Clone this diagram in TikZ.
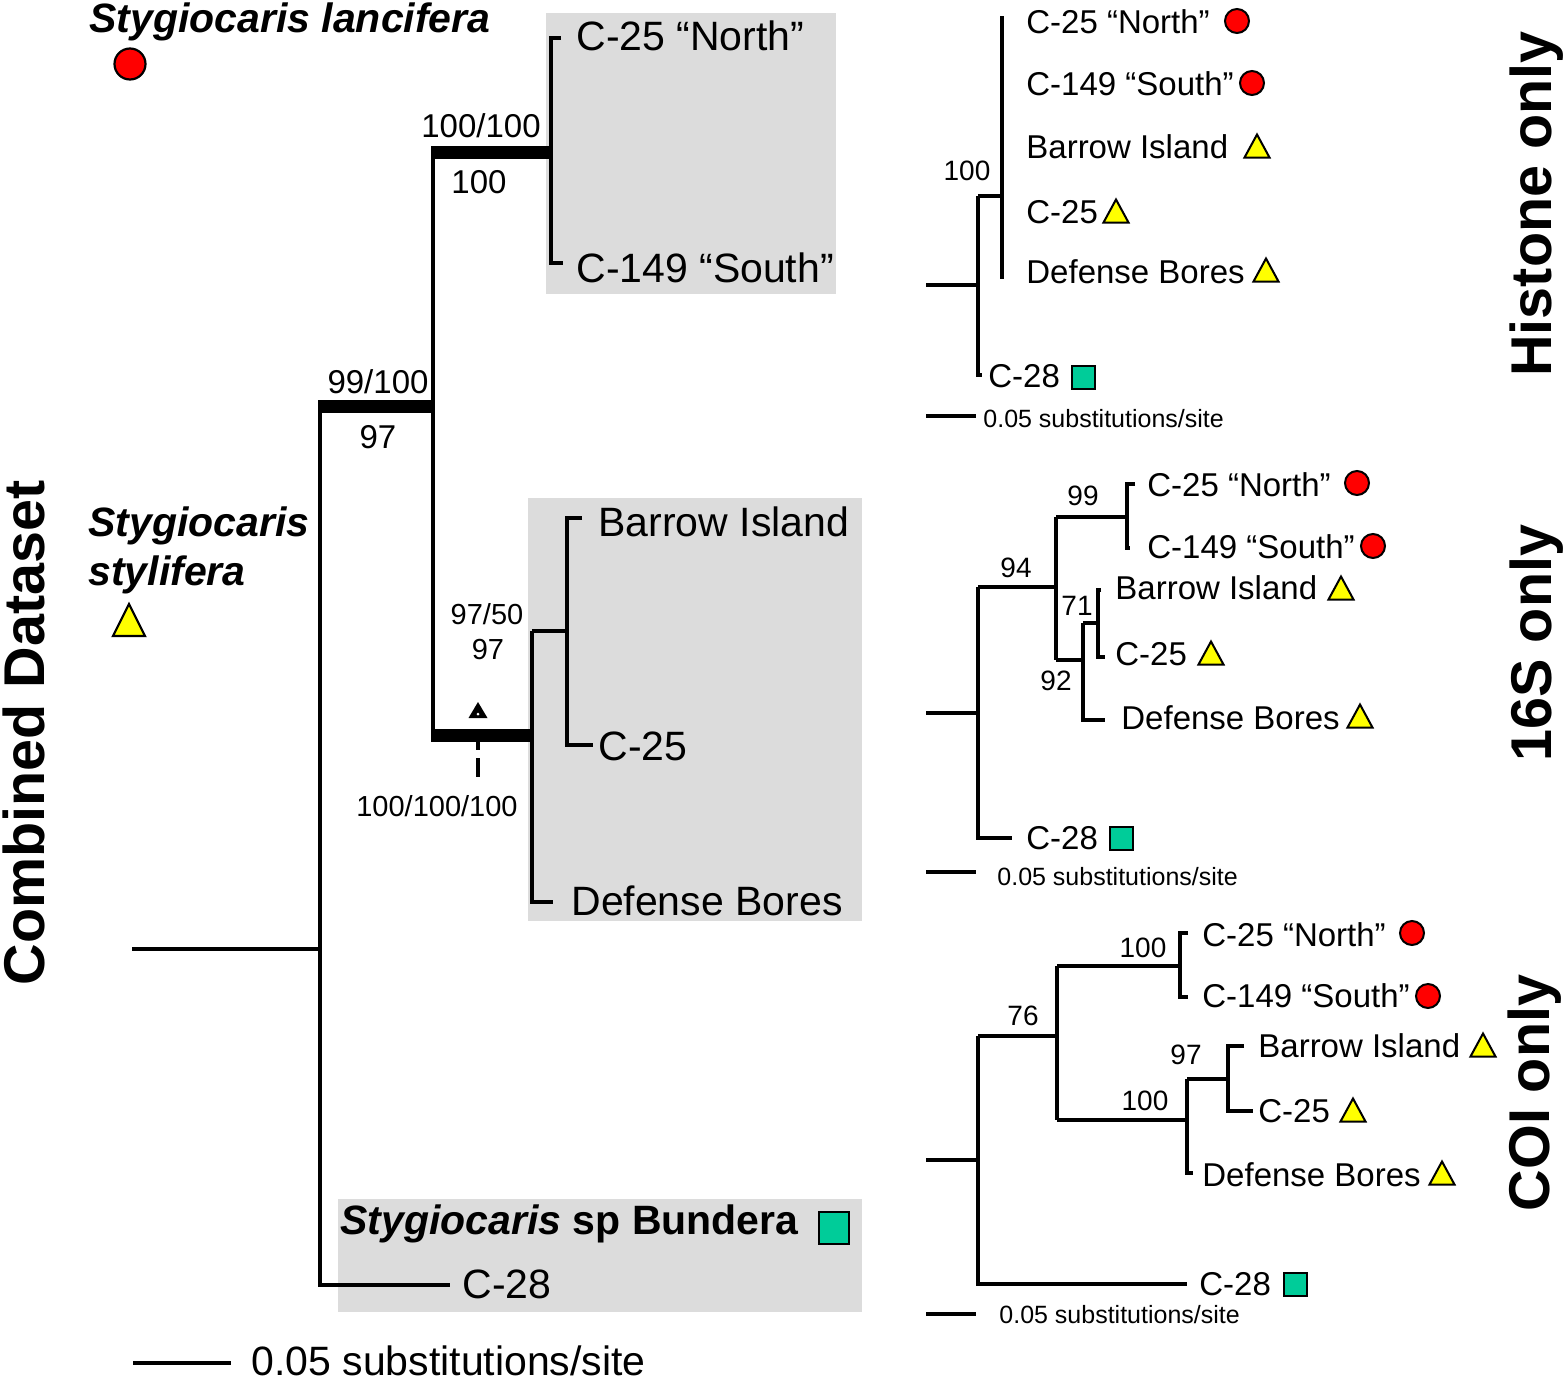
\documentclass[tikz,border=0pt]{standalone}
\usepackage{fontspec}
\setmainfont{Liberation Sans}
\definecolor{boxgray}{RGB}{220,220,220}
\definecolor{mred}{RGB}{255,0,0}
\definecolor{myel}{RGB}{255,255,0}
\definecolor{mgreen}{RGB}{0,204,153}
\begin{document}
\begin{tikzpicture}[x=0.5pt,y=-0.5pt,
  br/.style={line width=1.65pt, line join=miter, line cap=butt},
  thk/.style={line width=6.5pt, line cap=butt},
  lab/.style={anchor=base west, inner sep=0pt, font=\fontsize{20.5}{24}\selectfont},
  bilab/.style={anchor=base west, inner sep=0pt, font=\fontsize{20.5}{24}\selectfont\bfseries\itshape},
  rlab/.style={anchor=base west, inner sep=0pt, font=\fontsize{16.5}{20}\selectfont},
  supp/.style={anchor=base, inner sep=0pt, font=\fontsize{16.5}{20}\selectfont},
  suppsm/.style={anchor=base, inner sep=0pt, font=\fontsize{14.5}{17}\selectfont},
  rsupp/.style={anchor=base, inner sep=0pt, font=\fontsize{14}{17}\selectfont},
  scl/.style={anchor=base west, inner sep=0pt, font=\fontsize{12.5}{15}\selectfont},
  ttl/.style={rotate=90, anchor=base, inner sep=0pt, font=\fontsize{28.75}{32}\selectfont\bfseries},
  rdot/.pic={\filldraw[fill=mred, line width=1pt] (0,0) circle (12);},
  ytri/.pic={\filldraw[fill=myel, line width=1pt, line join=miter] (-12.5,11.5) -- (12.5,11.5) -- (0,-11.5) -- cycle;},
  gsq/.pic={\filldraw[fill=mgreen, line width=1pt] (-11.5,-11.5) rectangle (11.5,11.5);},
  bigdot/.pic={\filldraw[fill=mred, line width=1.1pt] (0,0) circle (15.5);},
  bigtri/.pic={\filldraw[fill=myel, line width=1.1pt, line join=miter] (-16,16) -- (16,16) -- (0,-16) -- cycle;},
  bigsq/.pic={\filldraw[fill=mgreen, line width=1.1pt] (-15,-16) rectangle (15,16);}
]
\useasboundingbox (0,0) rectangle (1564,1382);

% ---------- grey clade boxes ----------
\fill[boxgray] (546,13) rectangle (836,294);
\fill[boxgray] (528,498) rectangle (862,921);
\fill[boxgray] (338,1199) rectangle (862,1312);

% ---------- main tree ----------
\coordinate (r0) at (132,949);
\coordinate (r1) at (320,949);
\coordinate (n1) at (320,406);
\coordinate (n1e) at (320,1285);
\coordinate (c28e) at (450,1285);
\coordinate (n2) at (433,406);
\coordinate (n2t) at (433,152);
\coordinate (n2b) at (433,735);
\coordinate (n3) at (551,152);
\coordinate (n3t) at (551,38);
\coordinate (n3te) at (561,38);
\coordinate (n3b) at (551,263);
\coordinate (n3be) at (563,263);
\coordinate (n4) at (532,735);
\coordinate (n4t) at (532,631);
\coordinate (n4b) at (532,902);
\coordinate (n4be) at (553,902);
\coordinate (n5) at (567,631);
\coordinate (n5t) at (567,518);
\coordinate (n5te) at (582,518);
\coordinate (n5b) at (567,745);
\coordinate (n5be) at (593,745);

\draw[br] (r0) -- (r1);
\draw[br] (n1) -- (n1e) -- (c28e);
\draw[br] (n2t) -- (n2b);
\draw[br] (n3te) -- (n3t) -- (n3b) -- (n3be);
\draw[br] (n4t) -- (n4b) -- (n4be);
\draw[br] (n4t) -- (n5);
\draw[br] (n5te) -- (n5t) -- (n5b) -- (n5be);
\draw[thk] ([xshift=-0.8pt]n1) -- ([xshift=0.8pt]n2);
\draw[thk] ([xshift=-0.8pt]n2t) -- ([xshift=0.8pt]n3);
\draw[thk] ([xshift=-0.8pt]n2b) -- ([xshift=0.8pt]n4);

% arrow and dashed mark
\coordinate (ar) at (478,702);
\fill (ar) -- (487.5,718) -- (468.5,718) -- cycle;
\fill[white] (478,714) circle (1.5);
\coordinate (da1) at (478,742);
\coordinate (da2) at (478,750);
\coordinate (da3) at (478,758);
\coordinate (da4) at (478,777);
\draw[line width=1.7pt] (da1) -- (da2);
\draw[line width=1.7pt] (da3) -- (da4);

% main labels
\node[lab] (mN) at (576,50) {C-25 “North”};
\node[lab] (mS) at (576,282) {C-149 “South”};
\node[lab] (mB) at (598,536) {Barrow Island};
\node[lab] (mC) at (598,760) {C-25};
\node[lab] (mD) at (571,915) {Defense Bores};
\node[lab] (m28) at (462,1298) {C-28};
\node[anchor=base west, inner sep=0pt, font=\fontsize{20.5}{24}\selectfont\bfseries] (mBund) at (340,1234) {\textit{Stygiocaris} sp Bundera};
\pic at (834,1228) {bigsq};
\node[bilab] (mLanc) at (89,32) {Stygiocaris lancifera};
\pic at (130,64) {bigdot};
\node[bilab] (mSty1) at (88,536) {Stygiocaris};
\node[bilab] (mSty2) at (88,585) {stylifera};
\pic at (129,620) {bigtri};

% support values
\node[supp] (s1) at (481,137) {100/100};
\node[supp] (s2) at (479,193) {100};
\node[supp] (s3) at (378,393) {99/100};
\node[supp] (s4) at (378,448) {97};
\node[suppsm] (s5) at (487,624) {97/50};
\node[suppsm] (s6) at (488,659) {97};
\node[suppsm] (s7) at (437,816) {100/100/100};

% main scale
\coordinate (ms0) at (133,1363);
\coordinate (ms1) at (231,1363);
\draw[br] (ms0) -- (ms1);
\node[lab] (msl) at (251,1375) {0.05 substitutions/site};

% titles
\node[ttl] (tComb) at (44,733) {Combined Dataset};
\node[ttl] (tHis) at (1551,204) {Histone only};
\node[ttl] (t16) at (1551,643) {16S only};
\node[ttl] (tCOI) at (1549,1093) {COI only};

% ---------- Histone tree ----------
\coordinate (h0) at (926,285);
\coordinate (h1) at (978,285);
\coordinate (h1t) at (978,196);
\coordinate (h1b) at (978,375);
\coordinate (h1be) at (982,375);
\coordinate (h2) at (1002,196);
\coordinate (h2t) at (1002,16);
\coordinate (h2b) at (1002,277);
\coordinate (h2be) at (1004,277);
\draw[br] (h0) -- (h1);
\draw[br] (h1t) -- (h1b) -- (h1be);
\draw[br] (h1t) -- (h2);
\draw[br] (h2t) -- (h2b) -- (h2be);
\node[rsupp] (hs1) at (967,180) {100};
\node[rlab] (hN) at (1026,33) {C-25 “North”};
\node[rlab] (hS) at (1026,95) {C-149 “South”};
\node[rlab] (hB) at (1026,158) {Barrow Island};
\node[rlab] (hC) at (1026,223) {C-25};
\node[rlab] (hD) at (1026,283) {Defense Bores};
\node[rlab] (h28) at (988,387) {C-28};
\pic at (1237,21) {rdot};
\pic at (1252,83) {rdot};
\pic at (1257,146) {ytri};
\pic at (1116,211) {ytri};
\pic at (1266,270) {ytri};
\pic at (1083,377) {gsq};
\coordinate (hsc0) at (926,416);
\coordinate (hsc1) at (976,416);
\draw[br] (hsc0) -- (hsc1);
\node[scl] (hscl) at (983,427) {0.05 substitutions/site};

% ---------- 16S tree ----------
\coordinate (a0) at (926,713);
\coordinate (a1) at (978,713);
\coordinate (a1t) at (978,587);
\coordinate (a1b) at (978,838);
\coordinate (a1be) at (1012,838);
\coordinate (a2) at (1056,587);
\coordinate (a2t) at (1056,517);
\coordinate (a2b) at (1056,660);
\coordinate (a3) at (1127,517);
\coordinate (a3t) at (1127,484);
\coordinate (a3te) at (1135,484);
\coordinate (a3b) at (1127,548);
\coordinate (a3be) at (1130,548);
\coordinate (a4) at (1083,660);
\coordinate (a4t) at (1083,623);
\coordinate (a4b) at (1083,720);
\coordinate (a4be) at (1105,720);
\coordinate (a5) at (1098,623);
\coordinate (a5t) at (1098,590);
\coordinate (a5te) at (1101,590);
\coordinate (a5b) at (1098,657);
\coordinate (a5be) at (1105,657);
\draw[br] (a0) -- (a1);
\draw[br] (a1t) -- (a1b) -- (a1be);
\draw[br] (a1t) -- (a2);
\draw[br] (a2t) -- (a2b);
\draw[br] (a2t) -- (a3);
\draw[br] (a3te) -- (a3t) -- (a3b) -- (a3be);
\draw[br] (a2b) -- (a4);
\draw[br] (a4t) -- (a4b) -- (a4be);
\draw[br] (a4t) -- (a5);
\draw[br] (a5te) -- (a5t) -- (a5b) -- (a5be);
\node[rsupp] (as1) at (1083,505) {99};
\node[rsupp] (as2) at (1016,577) {94};
\node[rsupp] (as3) at (1077,615) {71};
\node[rsupp] (as4) at (1056,690) {92};
\node[rlab] (aN) at (1147,496) {C-25 “North”};
\node[rlab] (aS) at (1147,558) {C-149 “South”};
\node[rlab] (aB) at (1115,599) {Barrow Island};
\node[rlab] (aC) at (1115,665) {C-25};
\node[rlab] (aD) at (1121,729) {Defense Bores};
\node[rlab] (a28) at (1026,849) {C-28};
\pic at (1357,483) {rdot};
\pic at (1373,546) {rdot};
\pic at (1341,588) {ytri};
\pic at (1211,653) {ytri};
\pic at (1360,716) {ytri};
\pic at (1121,838) {gsq};
\coordinate (asc0) at (926,872);
\coordinate (asc1) at (976,872);
\draw[br] (asc0) -- (asc1);
\node[scl] (ascl) at (997,885) {0.05 substitutions/site};

% ---------- COI tree ----------
\coordinate (b0) at (926,1160);
\coordinate (b1) at (978,1160);
\coordinate (b1t) at (978,1036);
\coordinate (b1b) at (978,1284);
\coordinate (b1be) at (1187,1284);
\coordinate (b2) at (1057,1036);
\coordinate (b2t) at (1057,966);
\coordinate (b2b) at (1057,1120);
\coordinate (b3) at (1180,966);
\coordinate (b3t) at (1180,933);
\coordinate (b3te) at (1188,933);
\coordinate (b3b) at (1180,997);
\coordinate (b3be) at (1188,997);
\coordinate (b4) at (1187,1120);
\coordinate (b4t) at (1187,1079);
\coordinate (b4b) at (1187,1173);
\coordinate (b4be) at (1193,1173);
\coordinate (b5) at (1228,1079);
\coordinate (b5t) at (1228,1046);
\coordinate (b5te) at (1244,1046);
\coordinate (b5b) at (1228,1111);
\coordinate (b5be) at (1253,1111);
\draw[br] (b0) -- (b1);
\draw[br] (b1t) -- (b1b) -- (b1be);
\draw[br] (b1t) -- (b2);
\draw[br] (b2t) -- (b2b);
\draw[br] (b2t) -- (b3);
\draw[br] (b3te) -- (b3t) -- (b3b) -- (b3be);
\draw[br] (b2b) -- (b4);
\draw[br] (b4t) -- (b4b) -- (b4be);
\draw[br] (b4t) -- (b5);
\draw[br] (b5te) -- (b5t) -- (b5b) -- (b5be);
\node[rsupp] (bs1) at (1143,957) {100};
\node[rsupp] (bs2) at (1023,1025) {76};
\node[rsupp] (bs3) at (1145,1110) {100};
\node[rsupp] (bs4) at (1186,1064) {97};
\node[rlab] (bN) at (1202,946) {C-25 “North”};
\node[rlab] (bS) at (1202,1007) {C-149 “South”};
\node[rlab] (bB) at (1258,1057) {Barrow Island};
\node[rlab] (bC) at (1258,1122) {C-25};
\node[rlab] (bD) at (1202,1186) {Defense Bores};
\node[rlab] (b28) at (1199,1295) {C-28};
\pic at (1412,933) {rdot};
\pic at (1428,996) {rdot};
\pic at (1483,1045) {ytri};
\pic at (1353,1110) {ytri};
\pic at (1442,1173) {ytri};
\pic at (1295,1284) {gsq};
\coordinate (bsc0) at (926,1314);
\coordinate (bsc1) at (976,1314);
\draw[br] (bsc0) -- (bsc1);
\node[scl] (bscl) at (999,1323) {0.05 substitutions/site};
\end{tikzpicture}
\end{document}
